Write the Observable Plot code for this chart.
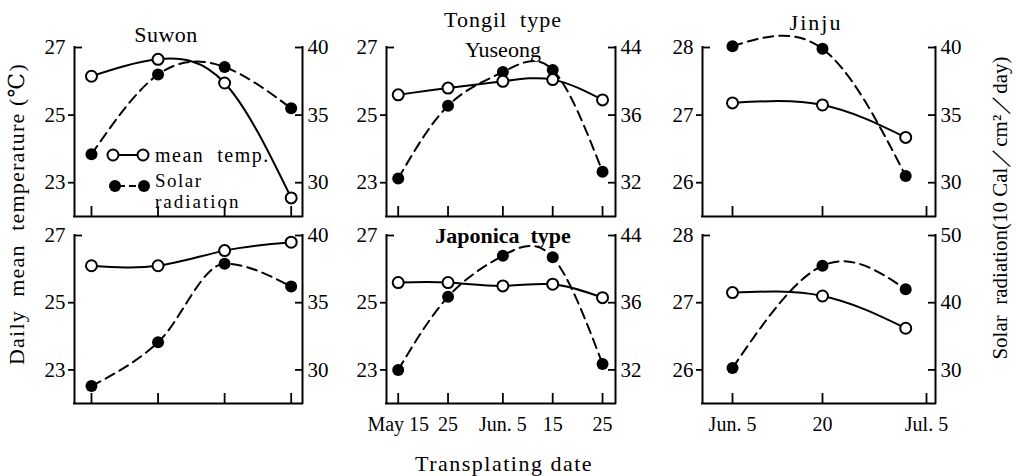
<!DOCTYPE html>
<html>
<head>
<meta charset="utf-8">
<script src="https://cdn.jsdelivr.net/npm/d3@7"></script>
<script src="https://cdn.jsdelivr.net/npm/@observablehq/plot@0.6"></script>
<style>
  html, body { margin: 0; padding: 0; background: #fff; }
  #chart { position: relative; width: 1019px; height: 476px; overflow: hidden;
           font-family: "Liberation Serif", "DejaVu Serif", serif; color: #000; background: #fff; }
  .panel { position: absolute; }
  .lbl { position: absolute; white-space: pre; line-height: 1; transform: translate(-50%, -50%); }
  .lblL { position: absolute; white-space: pre; line-height: 1; transform: translate(0, -50%); }
  .rot { position: absolute; white-space: pre; line-height: 1; transform: translate(-50%, -50%) rotate(-90deg); }
</style>
</head>
<body>
<div id="chart"></div>
<script>
// ---------------- data ----------------
// Suwon: four transplanting times (dates are not labelled in the figure)
const suwonTimes = [1, 2, 3, 4];
const suwonTongilTemp = [26.15, 26.65, 25.95, 22.55];
const suwonTongilSolar = [32.1, 38.0, 38.55, 35.5];
const suwonJaponicaTemp = [26.1, 26.1, 26.55, 26.8];
const suwonJaponicaSolar = [28.8, 32.05, 37.9, 36.2];

// Yuseong
const yuseongDates = ["May 15", "May 25", "Jun 5", "Jun 15", "Jun 25"];
const yuseongTickLabels = ["May 15", "25", "Jun. 5", "15", "25"];
const yuseongTongilTemp = [25.6, 25.8, 26.0, 26.05, 25.45];
const yuseongTongilSolar = [32.25, 37.1, 41.1, 41.35, 32.65];
const yuseongJaponicaTemp = [25.6, 25.6, 25.5, 25.55, 25.15];
const yuseongJaponicaSolar = [32.0, 36.7, 41.6, 41.4, 32.35];

// Jinju
const jinjuDates = ["Jun 5", "Jun 20", "Jul 2"];
const jinjuTickDates = ["Jun 5", "Jun 20", "Jul 5"];
const jinjuTickLabels = ["Jun. 5", "20", "Jul. 5"];
const jinjuTongilTemp = [27.18, 27.15, 26.67];
const jinjuTongilSolar = [40.1, 39.9, 30.5];
const jinjuJaponicaTemp = [27.15, 27.1, 26.62];
const jinjuJaponicaSolar = [30.3, 45.5, 42.0];

// axis ticks
const tempTicksLow = [23, 25, 27];
const tempTicksJinju = [26, 27, 28];
const solarTicksSuwon = [30, 35, 40];
const solarTicksYuseong = [32, 36, 44];
const solarTicksJinjuTongil = [30, 35, 40];
const solarTicksJinjuJaponica = [30, 40, 50];

// ---------------- helpers ----------------
const parseDay = d3.utcParse("%b %d");
const doy = s => { const d = parseDay(s); return d3.utcDay.count(d3.utcYear(d), d); };

const chart = document.getElementById("chart");
const M = {l: 50, r: 50, t: 30, b: 50};
const COLS = [{left: 74, right: 302}, {left: 386, right: 615}, {left: 702, right: 935}];
const ROWS = [{top: 47, bottom: 216}, {top: 235, bottom: 403}];

function panel(cfg) {
  const {col, row, xs, temp, solar, xDomain, xRange, xTicks, xLabels,
         tTicks, yDomain, sTicks, tempCurve = "natural", solarCurve = "natural"} = cfg;
  const sToT = d3.scaleLinear(sTicks, tTicks);   // right axis aligned with left ticks
  const tToS = d3.scaleLinear(tTicks, sTicks);
  const data = xs.map((x, i) => ({x, temp: temp[i], solarT: sToT(solar[i])}));
  const width = col.right - col.left + M.l + M.r;
  const height = row.bottom - row.top + M.t + M.b;
  const labelOf = new Map(xTicks.map((t, i) => [t, xLabels ? xLabels[i] : ""]));
  const tTop = tTicks[tTicks.length - 1];
  const fmt = t => String(Math.round(t));
  const svg = Plot.plot({
    width, height,
    marginLeft: M.l, marginRight: M.r, marginTop: M.t, marginBottom: M.b,
    style: {fontFamily: "'Liberation Serif', 'DejaVu Serif', serif", fontSize: "21px",
            overflow: "visible", background: "transparent", color: "black", maxWidth: "none"},
    x: {type: "linear", domain: xDomain, range: xRange ? xRange.map(v => v + M.l) : undefined},
    y: {type: "linear", domain: yDomain},
    marks: [
      Plot.ruleY([yDomain[0]], {stroke: "black", strokeWidth: 2, strokeLinecap: "square"}),
      Plot.ruleX([xDomain[0], xDomain[xDomain.length - 1]], {stroke: "black", strokeWidth: 2, strokeLinecap: "square"}),
      Plot.axisY({anchor: "left", ticks: tTicks.filter(t => t !== tTop), tickFormat: fmt,
                  tickSize: 6, tickPadding: 3, label: null, fontSize: 21, strokeWidth: 1.8}),
      Plot.axisY({anchor: "left", ticks: [tTop], tickFormat: fmt, tickSize: -8, tickPadding: 17,
                  label: null, fontSize: 21, strokeWidth: 1.8}),
      Plot.axisY({anchor: "right", ticks: sTicks.map(s => sToT(s)),
                  tickFormat: t => String(Math.round(tToS(t))),
                  tickSize: -8, tickPadding: 13, label: null, fontSize: 21, strokeWidth: 1.8}),
      Plot.axisX({anchor: "bottom", ticks: xTicks, tickFormat: d => labelOf.get(d),
                  tickSize: -10, tickPadding: 23, label: null, fontSize: 20, strokeWidth: 1.8}),
      Plot.line(data, {x: "x", y: "solarT", curve: solarCurve, stroke: "black",
                       strokeWidth: 2, strokeDasharray: "10,6"}),
      Plot.line(data, {x: "x", y: "temp", curve: tempCurve, stroke: "black", strokeWidth: 2}),
      Plot.dot(data, {x: "x", y: "solarT", r: 6, fill: "black"}),
      Plot.dot(data, {x: "x", y: "temp", r: 5.5, fill: "white", stroke: "black", strokeWidth: 2})
    ]
  });
  const div = document.createElement("div");
  div.className = "panel";
  div.style.left = (col.left - M.l) + "px";
  div.style.top = (row.top - M.t) + "px";
  div.appendChild(svg);
  chart.appendChild(div);
}

// x domains
const suwonX = [0.745, 4.17];
const yuseongDays = yuseongDates.map(doy);
const yuseongX = [yuseongDays[0] - 2.35, yuseongDays[yuseongDays.length - 1] + 2.6];
const jinjuTickDays = jinjuTickDates.map(doy);
const jinjuX = [jinjuTickDays[0] - 5, ...jinjuTickDays, jinjuTickDays[2] + 1.3];
const jinjuRange = [0, 30, 120, 224, 233];

// Top row: Tongil type
panel({col: COLS[0], row: ROWS[0], xs: suwonTimes, temp: suwonTongilTemp, solar: suwonTongilSolar,
       xDomain: suwonX, xTicks: suwonTimes, xLabels: null,
       tTicks: tempTicksLow, yDomain: [22, 27], sTicks: solarTicksSuwon});
panel({col: COLS[1], row: ROWS[0], xs: yuseongDays, temp: yuseongTongilTemp, solar: yuseongTongilSolar,
       xDomain: yuseongX, xTicks: yuseongDays, xLabels: null,
       tTicks: tempTicksLow, yDomain: [22, 27], sTicks: solarTicksYuseong});
panel({col: COLS[2], row: ROWS[0], xs: jinjuDates.map(doy), temp: jinjuTongilTemp, solar: jinjuTongilSolar,
       xDomain: jinjuX, xRange: jinjuRange, xTicks: jinjuTickDays, xLabels: null,
       tTicks: tempTicksJinju, yDomain: [25.5, 28], sTicks: solarTicksJinjuTongil});
// Bottom row: Japonica type
panel({col: COLS[0], row: ROWS[1], xs: suwonTimes, temp: suwonJaponicaTemp, solar: suwonJaponicaSolar,
       xDomain: suwonX, xTicks: suwonTimes, xLabels: null,
       tTicks: tempTicksLow, yDomain: [22, 27], sTicks: solarTicksSuwon, solarCurve: "monotone-x"});
panel({col: COLS[1], row: ROWS[1], xs: yuseongDays, temp: yuseongJaponicaTemp, solar: yuseongJaponicaSolar,
       xDomain: yuseongX, xTicks: yuseongDays, xLabels: yuseongTickLabels,
       tTicks: tempTicksLow, yDomain: [22, 27], sTicks: solarTicksYuseong});
panel({col: COLS[2], row: ROWS[1], xs: jinjuDates.map(doy), temp: jinjuJaponicaTemp, solar: jinjuJaponicaSolar,
       xDomain: jinjuX, xRange: jinjuRange, xTicks: jinjuTickDays, xLabels: jinjuTickLabels,
       tTicks: tempTicksJinju, yDomain: [25.5, 28], sTicks: solarTicksJinjuJaponica});

// ---------------- text ----------------
function label(text, x, y, cls, css) {
  const d = document.createElement("div");
  d.className = cls;
  d.textContent = text;
  d.style.left = x + "px";
  d.style.top = y + "px";
  Object.assign(d.style, css || {});
  chart.appendChild(d);
}
label("Suwon", 166, 35, "lbl", {fontSize: "22px", letterSpacing: "0.5px"});
label("Tongil  type", 503, 20, "lbl", {fontSize: "22px", letterSpacing: "1px"});
label("Yuseong", 503, 50, "lbl", {fontSize: "22px"});
label("Jinju", 816, 23, "lbl", {fontSize: "22px", letterSpacing: "2px"});
label("Japonica  type", 503, 236, "lbl", {fontSize: "22px", fontWeight: "bold"});
label("Transplating date", 504, 464, "lbl", {fontSize: "22px", letterSpacing: "1.5px"});
label("Daily  mean  temperature (℃)", 17, 214, "rot", {fontSize: "22px", letterSpacing: "1.2px"});
label("Solar  radiation(10 Cal／cm²／day)", 1000, 208, "rot", {fontSize: "21px"});

// legend (inside Suwon, Tongil panel)
const legend = document.createElementNS("http://www.w3.org/2000/svg", "svg");
legend.setAttribute("width", 60); legend.setAttribute("height", 60);
legend.style.position = "absolute"; legend.style.left = "100px"; legend.style.top = "140px";
legend.innerHTML =
  '<line x1="13" y1="15" x2="43" y2="15" stroke="black" stroke-width="2"/>' +
  '<circle cx="13" cy="15" r="5.5" fill="white" stroke="black" stroke-width="2"/>' +
  '<circle cx="43" cy="15" r="5.5" fill="white" stroke="black" stroke-width="2"/>' +
  '<line x1="15" y1="46" x2="44" y2="46" stroke="black" stroke-width="2" stroke-dasharray="7,4" stroke-dashoffset="-3"/>' +
  '<circle cx="15" cy="46" r="6" fill="black"/>' +
  '<circle cx="44" cy="46" r="6" fill="black"/>';
chart.appendChild(legend);
label("mean  temp.", 155, 155, "lblL", {fontSize: "20px", letterSpacing: "1.5px"});
label("Solar", 155, 180, "lblL", {fontSize: "19px", letterSpacing: "1.5px"});
label("radiation", 155, 201, "lblL", {fontSize: "19px", letterSpacing: "2px"});
</script>
</body>
</html>
